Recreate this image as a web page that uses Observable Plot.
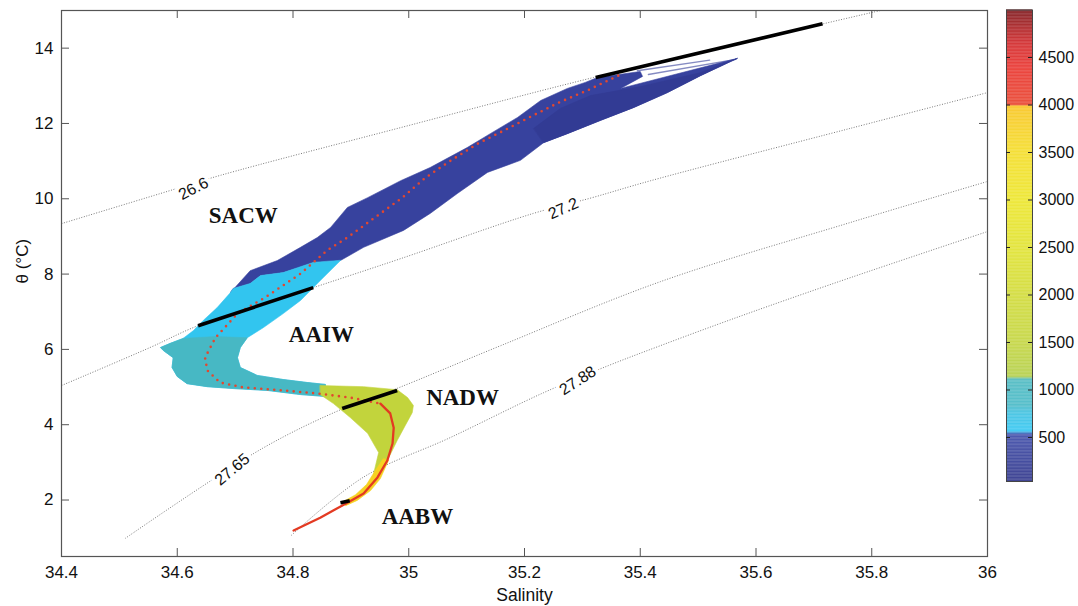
<!DOCTYPE html>
<html><head><meta charset="utf-8">
<script src="https://cdn.jsdelivr.net/npm/d3@7"></script>
<script src="https://cdn.jsdelivr.net/npm/@observablehq/plot@0.6"></script>
<style>
html,body{margin:0;padding:0;background:#fff;}
#wrap{position:relative;width:1078px;height:606px;overflow:hidden;font-family:"Liberation Sans",Arial,sans-serif;}
#main{position:absolute;left:0;top:0;}
#cbar{position:absolute;left:1000px;top:0;}
</style></head><body><div id="wrap"><div id="main"></div><div id="cbar"></div></div>
<script>
// ---------- ticks ----------
const xTicks = [34.4, 34.6, 34.8, 35, 35.2, 35.4, 35.6, 35.8, 36];
const yTicks = [2, 4, 6, 8, 10, 12, 14];
const depthTicks = [500, 1000, 1500, 2000, 2500, 3000, 3500, 4000, 4500];

// ---------- isopycnals (sigma-theta) ----------
const iso266S = [34.400, 34.571, 34.674, 34.986, 35.319, 35.717, 35.815];
const iso266T = [9.34, 10.14, 10.62, 11.89, 13.22, 14.65, 15.0];
const iso272S = [34.400, 34.553, 34.636, 34.835, 34.986, 35.215, 35.317, 35.418, 35.763, 36.0];
const iso272T = [5.04, 6.05, 6.63, 7.64, 8.41, 9.61, 10.03, 10.48, 11.87, 12.82];
const iso2765S = [34.510, 34.747, 34.887, 34.979, 35.159, 35.435, 35.763, 36.0];
const iso2765T = [0.98, 3.37, 4.43, 4.96, 6.10, 7.80, 9.37, 10.46];
const iso2788S = [34.797, 34.921, 35.072, 35.233, 35.345, 35.435, 35.533, 35.620, 35.764, 36.0];
const iso2788T = [1.06, 2.60, 3.66, 4.85, 5.57, 6.10, 6.66, 7.14, 7.91, 9.13];

const isoLabels = ["26.6", "27.2", "27.65", "27.88"];
const isoLabelS = [34.628, 35.267, 34.695, 35.292];
const isoLabelT = [10.27, 9.74, 2.81, 5.17];

// ---------- water-mass envelopes (by depth class) ----------
const sacwS = [34.692,34.726,34.773,34.813,34.842,34.865,34.894,34.929,34.986,35.037,35.101,35.141,35.188,35.228,35.274,35.305,35.326,35.400,35.404,35.366,35.568,35.504,35.447,35.388,35.331,35.274,35.233,35.193,35.136,35.084,35.037,34.991,34.922,34.882,34.835,34.808,34.783,34.744,34.726,34.697];
const sacwT = [7.51,8.09,8.36,8.71,8.97,9.24,9.77,10.03,10.48,10.83,11.36,11.73,12.16,12.61,12.93,13.09,13.22,13.38,13.25,12.93,13.73,13.27,12.82,12.42,12.08,11.73,11.49,11.02,10.70,10.14,9.61,9.16,8.71,8.36,8.31,8.17,8.04,7.96,7.75,7.62];
const coreS = [35.216,35.262,35.314,35.401,35.504,35.568,35.504,35.447,35.388,35.331,35.274,35.233];
const coreT = [11.87,12.40,12.74,12.98,13.35,13.73,13.27,12.82,12.42,12.08,11.73,11.49];
const aaiwS = [34.882,34.842,34.813,34.783,34.749,34.721,34.709,34.704,34.709,34.738,34.783,34.825,34.856,34.856,34.813,34.756,34.697,34.652,34.617,34.600,34.591,34.593,34.576,34.571,34.588,34.610,34.628,34.645,34.669,34.692,34.697,34.726,34.744,34.783,34.808,34.835];
const aaiwT = [8.36,7.75,7.30,6.95,6.58,6.31,6.05,5.78,5.52,5.31,5.20,5.12,5.07,4.75,4.80,4.91,4.96,5.01,5.09,5.28,5.52,5.78,5.97,6.05,6.16,6.29,6.50,6.77,7.11,7.51,7.62,7.75,7.96,8.04,8.17,8.31];
const aaiwDeepS = [34.666,34.721,34.709,34.704,34.709,34.738,34.783,34.825,34.856,34.856,34.813,34.756,34.697,34.652,34.617,34.600,34.591,34.593,34.576,34.571,34.588,34.610];
const aaiwDeepT = [6.34,6.31,6.05,5.78,5.52,5.31,5.20,5.12,5.07,4.75,4.80,4.91,4.96,5.01,5.09,5.28,5.52,5.78,5.97,6.05,6.16,6.29];
const nadwS = [34.847,34.922,34.980,34.998,35.008,35.006,34.994,34.980,34.963,34.951,34.939,34.948,34.929,34.899,34.870,34.847];
const nadwT = [5.04,5.01,4.93,4.72,4.51,4.32,3.98,3.58,3.05,2.62,2.68,3.26,3.77,4.19,4.56,4.80];
const deepS = [34.965,34.951,34.934,34.911,34.891,34.887,34.908,34.927,34.942,34.956];
const deepT = [3.05,2.57,2.25,1.99,1.85,1.96,2.14,2.41,2.78,3.10];
const massKeys = ["sacw", "core", "aaiw", "aaiwDeep", "nadw", "deep"];
const massDepth = [380, 230, 600, 920, 1500, 3700];

// thin shallow strands near the warm end
const strandId = [1, 1, 2, 2];
const strandS = [35.414, 35.565, 35.395, 35.520];
const strandT = [13.30, 13.70, 13.40, 13.68];

// ---------- mean profile ----------
const meanS = [35.362,35.309,35.260,35.221,35.164,35.120,35.070,35.029,34.989,34.934,34.894,34.859,34.813,34.752,34.704,34.666,34.648,34.652,34.674,34.714,34.783,34.842,34.899,34.951,34.968,34.974,34.972,34.963,34.946,34.922,34.894,34.847,34.801];
const meanT = [13.27,12.88,12.56,12.26,11.81,11.47,10.99,10.56,10.03,9.42,8.97,8.63,8.01,7.38,6.95,6.31,5.78,5.44,5.12,4.99,4.91,4.83,4.72,4.56,4.30,3.92,3.50,3.05,2.60,2.17,1.93,1.53,1.19];

// ---------- water-mass boundaries ----------
const boundaryId = [1,1,2,2,3,3,4,4];
const boundaryS = [35.323,35.715,34.636,34.835,34.885,34.980,34.882,34.898];
const boundaryT = [13.22,14.65,6.63,7.64,4.43,4.91,1.93,1.98];

// ---------- water-mass names ----------
const massNames = ["SACW", "AAIW", "NADW", "AABW"];
const massNameS = [34.714, 34.849, 35.093, 35.015];
const massNameT = [9.56, 6.39, 4.72, 1.56];

// ---------- depth colour scale ----------
const depthStops = [0, 530, 565, 760, 830, 1110, 1140, 1500, 2000, 2500, 3000, 3500, 3985, 4000, 4400, 4650, 5000];
const depthColors = ["#2a2f85","#3c4aa8","#2fc6f2","#3dc0e0","#46b8c6","#4ab8c0","#b2ce46","#c2d43c","#d0da34","#e0e22c","#ece526","#f4dc24","#f8c41e","#e8402a","#e8302a","#d02426","#7a1216"];
const cbMin = 37, cbMax = 5000;

// ---------- build tables ----------
const rows = (S, T, extra) => S.map((s, i) => ({S: s, T: T[i], ...extra}));
const isoRows = [
  ...rows(iso266S, iso266T, {k: "26.6"}),
  ...rows(iso272S, iso272T, {k: "27.2"}),
  ...rows(iso2765S, iso2765T, {k: "27.65"}),
  ...rows(iso2788S, iso2788T, {k: "27.88"})
];
const polyS = [sacwS, coreS, aaiwS, aaiwDeepS, nadwS, deepS];
const polyT = [sacwT, coreT, aaiwT, aaiwDeepT, nadwT, deepT];
const polyRows = massKeys.flatMap((k, j) => rows(polyS[j], polyT[j], {k, depth: massDepth[j]}));
const strandRows = strandS.map((s, i) => ({S: s, T: strandT[i], id: strandId[i], depth: 300}));
const meanRows = rows(meanS, meanT, {});
const boundRows = boundaryS.map((s, i) => ({S: s, T: boundaryT[i], id: boundaryId[i]}));
const isoLabelRows = isoLabels.map((t, i) => ({S: isoLabelS[i], T: isoLabelT[i], t}));
const isoAngles = [-27, -24, -40, -33];
const nameRows = massNames.map((t, i) => ({S: massNameS[i], T: massNameT[i], t}));

const colorOpts = {type: "linear", domain: depthStops, range: depthColors, clamp: true};

const W = 1000, H = 606, mL = 61, mR = 13, mT = 10, mB = 50;
const fw = W - mL - mR, fh = H - mT - mB;
const tickCol = "#555";

const main = Plot.plot({
  width: W, height: H,
  marginLeft: mL, marginRight: mR, marginTop: mT, marginBottom: mB,
  style: {fontFamily: "'Liberation Sans', Arial, sans-serif", color: "#111", background: "white"},
  x: {domain: [34.4, 36], axis: null},
  y: {domain: [0.5, 15], axis: null},
  color: colorOpts,
  marks: [
    Plot.line(isoRows, {x: "S", y: "T", z: "k", curve: "catmull-rom", stroke: "#7a7a7a", strokeWidth: 1, strokeDasharray: "1,1.6", strokeLinecap: "butt", clip: true}),
    Plot.line(strandRows, {x: "S", y: "T", z: "id", stroke: "depth", strokeWidth: 1.3, strokeOpacity: 0.6}),
    Plot.line(polyRows, {x: "S", y: "T", z: "k", fill: "depth", stroke: "depth", strokeWidth: 0.6, curve: "linear-closed"}),
    Plot.line(meanRows.slice(0, 24), {x: "S", y: "T", stroke: "#e2472f", strokeWidth: 2.6, strokeDasharray: "0,6.5", strokeLinecap: "round"}),
    Plot.line(meanRows.slice(23), {x: "S", y: "T", stroke: "#e33a22", strokeWidth: 2.3, strokeLinecap: "round"}),
    Plot.line(boundRows, {x: "S", y: "T", z: "id", stroke: "#000", strokeWidth: 3.6, strokeLinecap: "butt"}),
    Plot.text(isoLabelRows, {x: "S", y: "T", text: "t", rotate: (d, i) => isoAngles[i], fontSize: 16, fill: "#111", stroke: "white", strokeWidth: 8}),
    Plot.text(nameRows, {x: "S", y: "T", text: "t", fontSize: 23, fontWeight: "bold", fontFamily: "'Liberation Serif', 'Times New Roman', serif", fill: "#111"}),
    Plot.frame({stroke: "#555", strokeWidth: 1.2}),
    Plot.tickX(xTicks, {x: d => d, insetTop: fh - 8, stroke: tickCol}),
    Plot.tickX(xTicks, {x: d => d, insetBottom: fh - 8, stroke: tickCol}),
    Plot.tickY(yTicks, {y: d => d, insetRight: fw - 8, stroke: tickCol}),
    Plot.tickY(yTicks, {y: d => d, insetLeft: fw - 8, stroke: tickCol}),
    Plot.axisX(xTicks, {anchor: "bottom", tickSize: 0, tickPadding: 9, fontSize: 17, label: null, tickFormat: d => String(d)}),
    Plot.axisY(yTicks, {anchor: "left", tickSize: 0, tickPadding: 8, fontSize: 17, label: null, tickFormat: d => String(d)}),
    Plot.text(["Salinity"], {frameAnchor: "bottom", dy: 39, text: d => d, fontSize: 17.5, lineAnchor: "middle"}),
    Plot.text(["θ (°C)"], {frameAnchor: "left", dx: -39, rotate: -90, text: d => d, fontSize: 17, lineAnchor: "middle"})
  ]
});
document.getElementById("main").appendChild(main);

const cbCells = d3.range(cbMin, cbMax, 8);
const cb = Plot.plot({
  width: 78, height: H,
  marginLeft: 6, marginRight: 46, marginTop: 9.5, marginBottom: H - 481,
  style: {fontFamily: "'Liberation Sans', Arial, sans-serif", color: "#111", background: "white"},
  x: {domain: [0, 1], axis: null},
  y: {domain: [cbMin, cbMax], axis: null},
  color: colorOpts,
  marks: [
    Plot.rect(cbCells, {x1: 0, x2: 1, y1: d => d, y2: d => Math.min(d + 9, cbMax), fill: d => d + 4}),
    Plot.frame({stroke: "#444", strokeWidth: 1}),
    Plot.tickY(depthTicks, {y: d => d, insetRight: 22, stroke: "#222"}),
    Plot.tickY(depthTicks, {y: d => d, insetLeft: 22, stroke: "#222"}),
    Plot.axisY(depthTicks, {anchor: "right", tickSize: 0, tickPadding: 6, fontSize: 16, label: null, tickFormat: d => String(d)})
  ]
});
document.getElementById("cbar").appendChild(cb);
</script>
</body></html>
